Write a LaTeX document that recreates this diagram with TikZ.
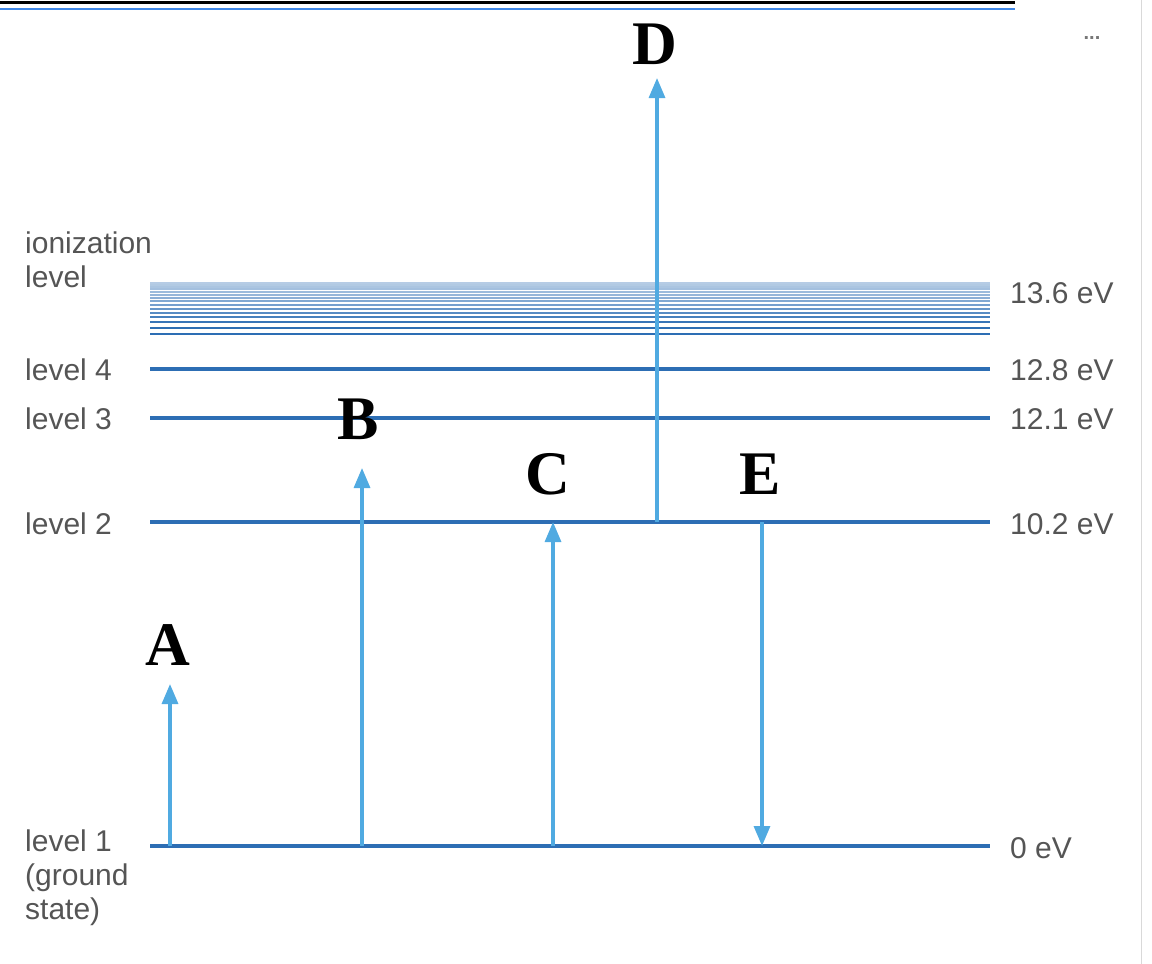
\documentclass[tikz,border=0pt]{standalone}
\usepackage{fontspec}
\setmainfont{Liberation Sans}
\newfontfamily\letterfont{Liberation Serif}
\usetikzlibrary{arrows.meta}
\definecolor{lvl}{RGB}{45,110,180}
\definecolor{arr}{RGB}{80,170,225}
\definecolor{txt}{RGB}{85,85,85}
\tikzset{
  lvlline/.style={lvl,line width=3.2pt},
  arrline/.style={arr,line width=3.2pt,-{Triangle[length=20pt,width=16pt]}},
  lab/.style={txt,font=\fontsize{30}{34}\selectfont,inner sep=0pt,anchor=west,align=left},
  big/.style={font=\letterfont\bfseries\fontsize{62}{62}\selectfont,inner sep=0pt}
}
\begin{document}
\begin{tikzpicture}[x=1pt,y=-1pt]
\useasboundingbox (0,0) rectangle (1152,964);
\draw[black,line width=3pt] (0,2) -- (1015,2);
\draw[arr!80!blue,line width=2pt] (0,9) -- (1015,9);
\draw[black!15,line width=1pt] (1141,0) -- (1141,964);
\node[txt!80,font=\fontsize{20}{20}\selectfont] (dots) at (1092,38) {\textbf{...}};
% ionization band
\foreach \y/\o in {283/0.35,285/0.37,287/0.4,289/0.43,292/0.47,295/0.5,298/0.55,301/0.6,305/0.66,309/0.72,313/0.8,317/0.88,322/0.95,328/1,334/1}
  \draw[lvl,line width=2.6pt,opacity=\o] (150,\y) -- (990,\y);
\coordinate (l4a) at (150,369); \coordinate (l4b) at (990,369);
\coordinate (l3a) at (150,418); \coordinate (l3b) at (990,418);
\coordinate (l2a) at (150,522); \coordinate (l2b) at (990,522);
\coordinate (l1a) at (150,846); \coordinate (l1b) at (990,846);
\draw[lvlline] (l4a) -- (l4b);
\draw[lvlline] (l3a) -- (l3b);
\draw[lvlline] (l2a) -- (l2b);
\draw[lvlline] (l1a) -- (l1b);
% left labels
\node[lab,anchor=north west] (ion) at (25,232) {ionization\\level};
\node[lab] (t4) at (25,370) {level 4};
\node[lab] (t3) at (25,419) {level 3};
\node[lab] (t2) at (25,524) {level 2};
\node[lab,anchor=north west] (t1) at (25,830) {level 1\\(ground\\state)};
% right labels
\node[lab] (e5) at (1010,293) {13.6 eV};
\node[lab] (e4) at (1010,370) {12.8 eV};
\node[lab] (e3) at (1010,419) {12.1 eV};
\node[lab] (e2) at (1010,524) {10.2 eV};
\node[lab] (e1) at (1010,848) {0 eV};
% arrows
\coordinate (a0) at (170,846); \coordinate (a1) at (170,684);
\coordinate (b0) at (362,846); \coordinate (b1) at (362,468);
\coordinate (c0) at (553,846); \coordinate (c1) at (553,522);
\coordinate (d0) at (657,522); \coordinate (d1) at (657,78);
\coordinate (e0) at (762,522); \coordinate (ee) at (762,846);
\draw[arrline] (a0) -- (a1);
\draw[arrline] (b0) -- (b1);
\draw[arrline] (c0) -- (c1);
\draw[arrline] (d0) -- (d1);
\draw[arrline] (e0) -- (ee);
\node[big] (A) at (168,645) {A};
\node[big] (B) at (358,419) {B};
\node[big] (C) at (548,474) {C};
\node[big] (D) at (655,44) {D};
\node[big] (E) at (760,474) {E};
\end{tikzpicture}
\end{document}
